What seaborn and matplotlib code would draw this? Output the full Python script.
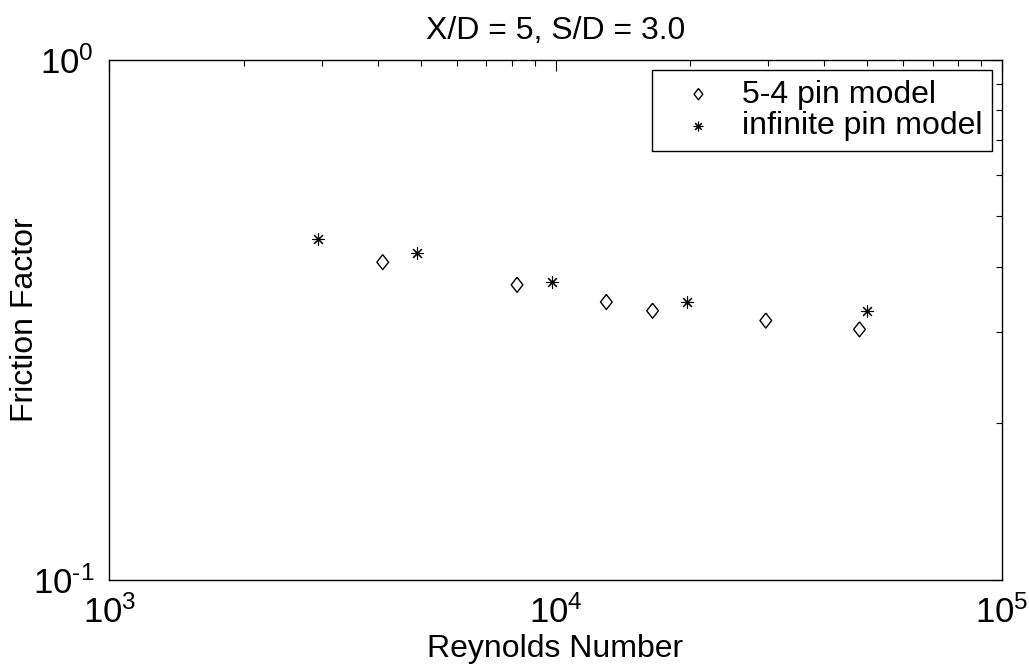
import numpy as np
import pandas as pd
import matplotlib
matplotlib.use("Agg")
import matplotlib.pyplot as plt
import seaborn as sns
from matplotlib.ticker import LogLocator, NullFormatter

# ---- data ----
re_54 = [4100, 8200, 13000, 16500, 29600, 48000]
f_54 = [0.408, 0.369, 0.342, 0.329, 0.315, 0.303]
re_inf = [2940, 4900, 9800, 19700, 50000]
f_inf = [0.453, 0.425, 0.374, 0.342, 0.329]
series_labels = ["5-4 pin model", "infinite pin model"]
x_ticks = [1e3, 1e4, 1e5]
x_tick_labels = ["10$^{3}$", "10$^{4}$", "10$^{5}$"]
y_ticks = [0.1, 1.0]
y_tick_labels = ["10$^{\\text{-1}}$", "10$^{0}$"]
title_text = "X/D = 5, S/D = 3.0"
xlabel_text = "Reynolds Number"
ylabel_text = "Friction Factor"

sns.set_theme(style="white")
plt.rcParams["font.family"] = ["Liberation Sans", "DejaVu Sans"]
plt.rcParams["mathtext.fontset"] = "custom"
plt.rcParams["mathtext.rm"] = "Liberation Sans"
plt.rcParams["mathtext.it"] = "Liberation Sans:italic"
plt.rcParams["mathtext.bf"] = "Liberation Sans:bold"
plt.rcParams["axes.unicode_minus"] = False
plt.rcParams["text.color"] = "black"

FS = 23
TFS = 25

fig = plt.figure(figsize=(10.29, 6.71), dpi=100)
ax = fig.add_axes([0.1062, 0.1361, 0.8673, 0.7749])

diamond = [(0, 1), (0.78, 0), (0, -1), (-0.78, 0), (0, 1)]
sns.scatterplot(x=re_54, y=f_54, marker=diamond, s=117, facecolor="none",
                edgecolor="black", linewidth=1.0, label=series_labels[0], ax=ax)
sns.scatterplot(x=re_inf, y=f_inf, marker=(8, 2, 0), s=72, color="black",
                linewidth=0.8, label=series_labels[1], ax=ax)

ax.set_xscale("log")
ax.set_yscale("log")
ax.set_xlim(1e3, 1e5)
ax.set_ylim(0.1, 1)
ax.set_xticks(x_ticks, labels=x_tick_labels)
ax.set_yticks(y_ticks, labels=y_tick_labels)
ax.xaxis.set_minor_locator(LogLocator(base=10, subs=np.arange(2, 10)))
ax.yaxis.set_minor_locator(LogLocator(base=10, subs=np.arange(2, 10)))
ax.xaxis.set_minor_formatter(NullFormatter())
ax.yaxis.set_minor_formatter(NullFormatter())

ax.tick_params(which="both", direction="in", top=True, right=True,
               color="black", width=0.8, labelsize=TFS, labelcolor="black")
ax.tick_params(which="major", length=8)
ax.tick_params(which="minor", length=4.5)
ax.tick_params(axis="x", which="major", pad=11)
ax.tick_params(axis="y", which="major", pad=11)

for sp in ax.spines.values():
    sp.set_color("black")
    sp.set_linewidth(1.0)

ax.set_title(title_text, fontsize=FS, pad=15, color="black")
ax.set_xlabel(xlabel_text, fontsize=FS, labelpad=3, color="black")
ax.set_ylabel(ylabel_text, fontsize=FS, color="black")
ax.yaxis.set_label_coords(-0.078, 0.5)

leg = ax.legend(loc="upper right", bbox_to_anchor=(0.9637, 0.8957),
                bbox_transform=fig.transFigure, fontsize=FS, frameon=True,
                fancybox=False, edgecolor="black", framealpha=1,
                markerscale=0.75, borderpad=0.3, labelspacing=0.05,
                handletextpad=0.2, handlelength=2.3, borderaxespad=0)
leg.get_frame().set_linewidth(1.0)
for t in leg.get_texts():
    t.set_color("black")

fig.savefig("out.png", dpi=100, facecolor="white")
